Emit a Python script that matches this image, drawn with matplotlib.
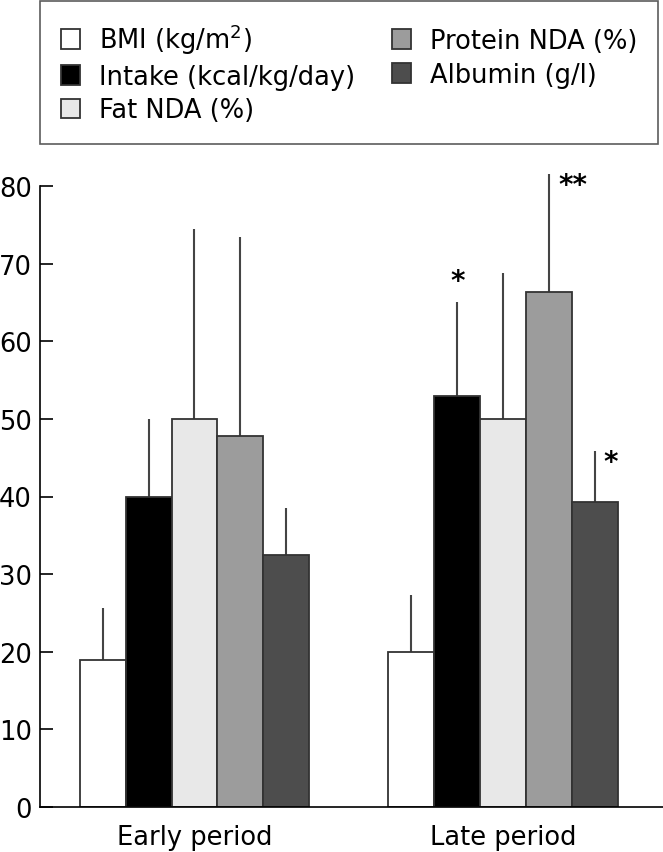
import matplotlib
matplotlib.use("Agg")
import matplotlib.pyplot as plt
import numpy as np

periods = ["Early period", "Late period"]
series = ["BMI (kg/m$^2$)", "Intake (kcal/kg/day)", "Fat NDA (%)",
          "Protein NDA (%)", "Albumin (g/l)"]
means_early = [19.0, 40.0, 50.0, 47.8, 32.4]
means_late = [20.0, 53.0, 50.0, 66.3, 39.3]
err_early = [6.7, 10.0, 24.4, 25.6, 6.1]
err_late = [7.3, 12.0, 18.8, 15.2, 6.5]
colors = ["#ffffff", "#000000", "#e8e8e8", "#9c9c9c", "#4d4d4d"]
# significance markers: (period index, series index, text)
stars = [(1, 1, "*"), (1, 3, "**"), (1, 4, "*")]

plt.rcParams['font.family'] = ['DejaVu Sans']
plt.rcParams['mathtext.fontset'] = 'dejavusans'
fig = plt.figure(figsize=(6.63, 8.53), dpi=100)
W, H = 663, 853
ax = fig.add_axes([40 / W, 45 / H, (663 - 40) / W, (808 - 160) / H])

x = np.arange(len(periods))
w = 0.1485
means = np.array([means_early, means_late])
errs = np.array([err_early, err_late])
for i, name in enumerate(series):
    pos = x + (i - 2) * w
    ax.bar(pos, means[:, i], width=w, color=colors[i], edgecolor="#333333",
           linewidth=1.3, label=name, zorder=2)
    ax.errorbar(pos, means[:, i], yerr=[np.zeros(2), errs[:, i]], fmt="none",
                ecolor="#444444", elinewidth=1.5, capsize=0, zorder=1)

for p, s, t in stars:
    top = means[p, s] + errs[p, s]
    xpos = x[p] + (s - 2) * w
    if s == 1:
        ax.text(xpos, top + 2.8, t, ha="center", va="center", fontsize=20,
                fontweight="bold")
    else:
        ax.text(xpos + 0.03, top - 1.4, t, ha="left", va="center",
                fontsize=20, fontweight="bold")

ylim_top = 80 * (808 - 160) / (808 - 187)
ax.set_ylim(0, ylim_top)
ax.set_xlim((40 - 194.5) / 308.5, (663 - 194.5) / 308.5)
ax.spines["top"].set_visible(False)
ax.spines["right"].set_visible(False)
ax.spines["left"].set_bounds(0, 80)
ax.spines["left"].set_linewidth(1.2)
ax.spines["bottom"].set_linewidth(1.2)
ax.set_yticks(np.arange(0, 81, 10))
ax.tick_params(axis="y", direction="in", length=9, width=1.2, labelsize=18.5, pad=6)
ax.set_xticks(x)
ax.set_xticklabels(periods)
ax.tick_params(axis="x", length=0, labelsize=18.5, pad=12)

handles, labels = ax.get_legend_handles_labels()
leg = fig.legend(handles, labels, ncol=2, loc="upper left",
                 bbox_to_anchor=(40 / W, 1 - 143 / H, 618 / W, 141 / H),
                 mode="expand", fontsize=18.5, frameon=True, fancybox=False,
                 edgecolor="#333333", handlelength=0.75, handleheight=0.8,
                 handletextpad=0.75, labelspacing=0.3, borderpad=0.8,
                 columnspacing=1.6, borderaxespad=0)
leg.get_frame().set_linewidth(1.2)

fig.savefig("out.png", dpi=100)
